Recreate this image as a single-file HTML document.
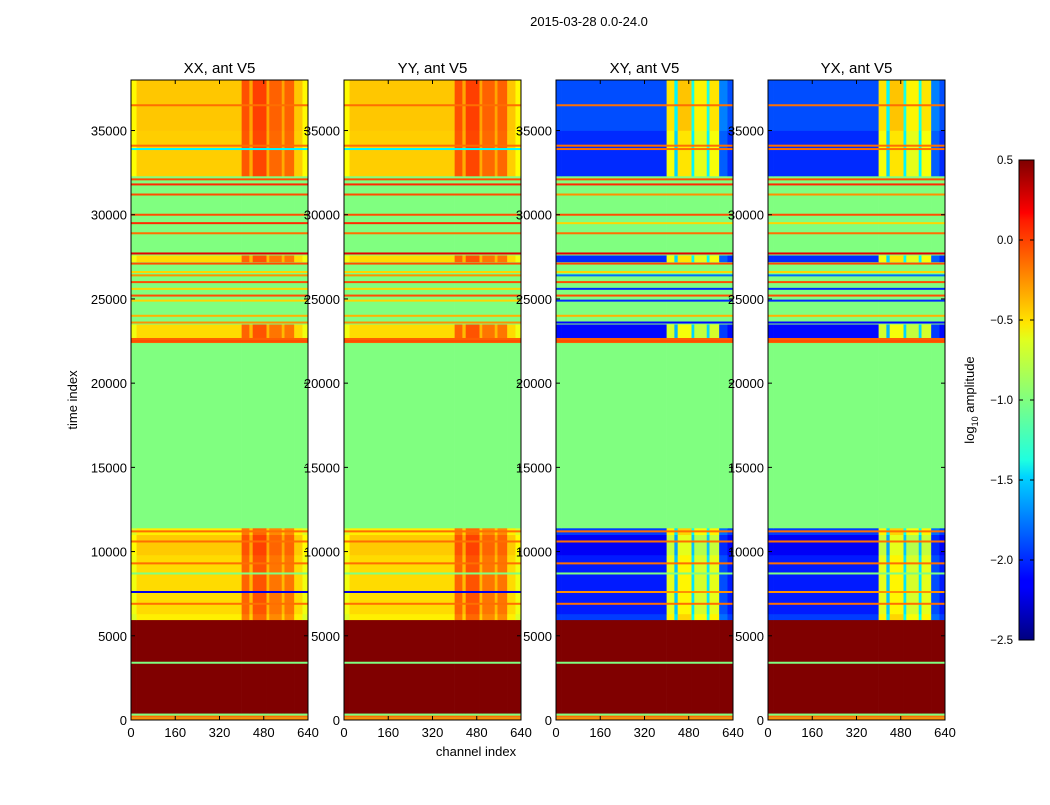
<!DOCTYPE html>
<html><head><meta charset="utf-8"><style>
body{margin:0;background:#fff;width:1050px;height:800px;overflow:hidden;font-family:"Liberation Sans",sans-serif}
svg text{font-family:"Liberation Sans",sans-serif}
</style></head><body>
<svg id="fig" width="1050" height="800" xmlns="http://www.w3.org/2000/svg">
<defs><linearGradient id="jet" x1="0" y1="1" x2="0" y2="0">
<stop offset="0" stop-color="#00007f"/><stop offset="0.11" stop-color="#0000ff"/><stop offset="0.125" stop-color="#0000ff"/>
<stop offset="0.34" stop-color="#00d4ff"/><stop offset="0.375" stop-color="#1fffe0"/><stop offset="0.5" stop-color="#80ff80"/>
<stop offset="0.625" stop-color="#e0ff1f"/><stop offset="0.66" stop-color="#ffe600"/><stop offset="0.875" stop-color="#ff1a00"/><stop offset="0.89" stop-color="#ff0000"/><stop offset="1" stop-color="#7f0000"/>
</linearGradient></defs>
<text x="589" y="26" font-size="13" text-anchor="middle">2015-03-28 0.0-24.0</text>
<text x="476" y="756" font-size="13" text-anchor="middle">channel index</text>
<text x="77" y="400" font-size="13" text-anchor="middle" transform="rotate(-90 77 400)">time index</text>
<g id="panels"></g>
<rect x="1019" y="160" width="15" height="480" fill="url(#jet)" stroke="#000" stroke-width="1"/>
<g id="cbticks"></g>
<text x="974" y="400" font-size="13" text-anchor="middle" transform="rotate(-90 974 400)">log<tspan font-size="9" dy="4">10</tspan><tspan dy="-4"> amplitude</tspan></text>
</svg>
<script>
const NS="http://www.w3.org/2000/svg";
const titles=["XX, ant V5","YY, ant V5","XY, ant V5","YX, ant V5"];
const panelKind=["auto","auto","cross","cross"];
const tMax=38000, chMax=640, vmin=-2.5, vmax=0.5;
const xTicks=[0,160,320,480,640];
const yTicks=[0,5000,10000,15000,20000,25000,30000,35000];
const cbTicks=[0.5,0.0,-0.5,-1.0,-1.5,-2.0,-2.5];
// time bands
const bandStart=[0,150,400,5950,6300,9800,11000,11400,22400,22700,23500,27200,27600,32300,35000];
const bandEnd  =[150,400,5950,6300,9800,11000,11400,22400,22700,23500,27200,27600,32300,35000,38000];
const bandAuto =[-0.3,-1.0,0.6,-0.58,-0.52,-0.47,-0.58,-1.0,-0.15,-0.52,-1.0,-0.52,-1.0,-0.48,-0.46];
const bandCross=[-0.3,-1.0,0.6,-1.95,-2.05,-2.15,-1.95,-1.0,-0.15,-2.1,-1.0,-2.0,-1.0,-2.0,-1.9];
const bandActive=[0,0,0,1,1,1,1,0,0,1,0,1,0,1,1];
// channel blocks
const chStart=[0,20,400,428,440,490,500,545,555,590,620];
const chEnd  =[20,400,428,440,490,500,545,555,590,620,640];
const boostAuto =[-0.15,0,0.35,0.1,0.4,0.1,0.3,0.1,0.3,0,-0.15];
const boostCross=[0,0,1.35,0.5,1.45,0.6,1.3,0.6,1.35,0.15,0];
// thin lines
const lineT=[200,3400,6900,7600,8700,9300,10600,11200,22500,23600,24000,24900,25200,25600,26000,26400,26600,27100,27700,28900,29500,30000,31200,31800,32100,33900,34100,36500];
const lineAuto=[-0.2,-1.0,-0.2,-2.2,-1.0,-0.2,-0.2,-0.2,-0.1,-0.3,-0.4,-0.5,-0.1,-0.5,-0.1,-0.3,-0.5,-0.1,0.2,-0.2,0.0,-0.1,-0.1,0.0,-0.1,-1.4,-0.2,-0.2];
const lineCross=[-0.2,-1.0,-0.2,-0.3,-1.0,-0.2,-0.2,-0.2,-0.1,-2.1,-0.4,-2.0,-0.1,-2.0,-0.1,-1.8,-0.5,-0.1,0.2,-0.2,-0.5,-0.1,-0.3,0.0,-0.1,-0.2,-0.2,-0.2];
const px=[131,344,556,768], pw=177, topY=80, ph=640;
function jet(v){let x=(v-vmin)/(vmax-vmin);x=Math.max(0,Math.min(1,x));
 const c=a=>Math.round(255*Math.max(0,Math.min(1,1.5-Math.abs(4*x-a))));
 return `rgb(${c(3)},${c(2)},${c(1)})`;}
function ty(t){return topY+ph-t/tMax*ph;}
const G=document.getElementById("panels");
function mk(tag,attrs,parent){const e=document.createElementNS(NS,tag);for(const k in attrs)e.setAttribute(k,attrs[k]);parent.appendChild(e);return e;}
for(let p=0;p<4;p++){
 const x0=px[p], sx=c=>x0+c/chMax*pw;
 const g=mk("g",{},G);
 
 
 const cross=panelKind[p]==="cross";
 for(let b=0;b<bandStart.length;b++){
  const base=cross?bandCross[b]:bandAuto[b];
  for(let c=0;c<chStart.length;c++){
   const v=base+(bandActive[b]?(cross?boostCross[c]:boostAuto[c]):0);
   const y1=ty(bandEnd[b]),y2=ty(bandStart[b]);
   const r=mk("rect",{x:sx(chStart[c]),y:y1,width:sx(chEnd[c])-sx(chStart[c])+0.3,height:y2-y1+0.3,fill:jet(v)},g);
   
   
  }
 }
 for(let i=0;i<lineT.length;i++){
  const v=cross?lineCross[i]:lineAuto[i];
  const r=mk("rect",{x:x0,y:ty(lineT[i])-1,width:pw,height:2,fill:jet(v)},g);
  
  
 }
 const fr=mk("rect",{x:x0,y:topY,width:pw,height:ph,fill:"none",stroke:"#000","stroke-width":1},g);
 
 
 const tt=mk("text",{x:x0+pw/2,y:73,"font-size":15,"text-anchor":"middle"},g);tt.textContent=titles[p];
 
 
 xTicks.forEach(t=>{const X=sx(t);
  mk("line",{x1:X,x2:X,y1:topY+ph,y2:topY+ph-4,stroke:"#000"},g);
  mk("line",{x1:X,x2:X,y1:topY,y2:topY+4,stroke:"#000"},g);
  const l=mk("text",{x:X,y:737,"font-size":13,"text-anchor":"middle"},g);l.textContent=t;
  
  });
 yTicks.forEach(t=>{const Y=ty(t);
  mk("line",{x1:x0,x2:x0+4,y1:Y,y2:Y,stroke:"#000"},g);
  mk("line",{x1:x0+pw,x2:x0+pw-4,y1:Y,y2:Y,stroke:"#000"},g);
  const l=mk("text",{x:x0-4,y:Y+5,"font-size":13,"text-anchor":"end"},g);l.textContent=t;
  
  });
}
const CB=document.getElementById("cbticks");
cbTicks.forEach(v=>{const Y=160+(vmax-v)/(vmax-vmin)*480;
 mk("line",{x1:1019,x2:1023,y1:Y,y2:Y,stroke:"#000"},CB);
 mk("line",{x1:1034,x2:1030,y1:Y,y2:Y,stroke:"#000"},CB);
 const l=mk("text",{x:1013,y:Y+4,"font-size":11.5,"text-anchor":"end"},CB);l.textContent=v.toFixed(1).replace("-","\u2212");
 
 });
</script>
</body></html>
